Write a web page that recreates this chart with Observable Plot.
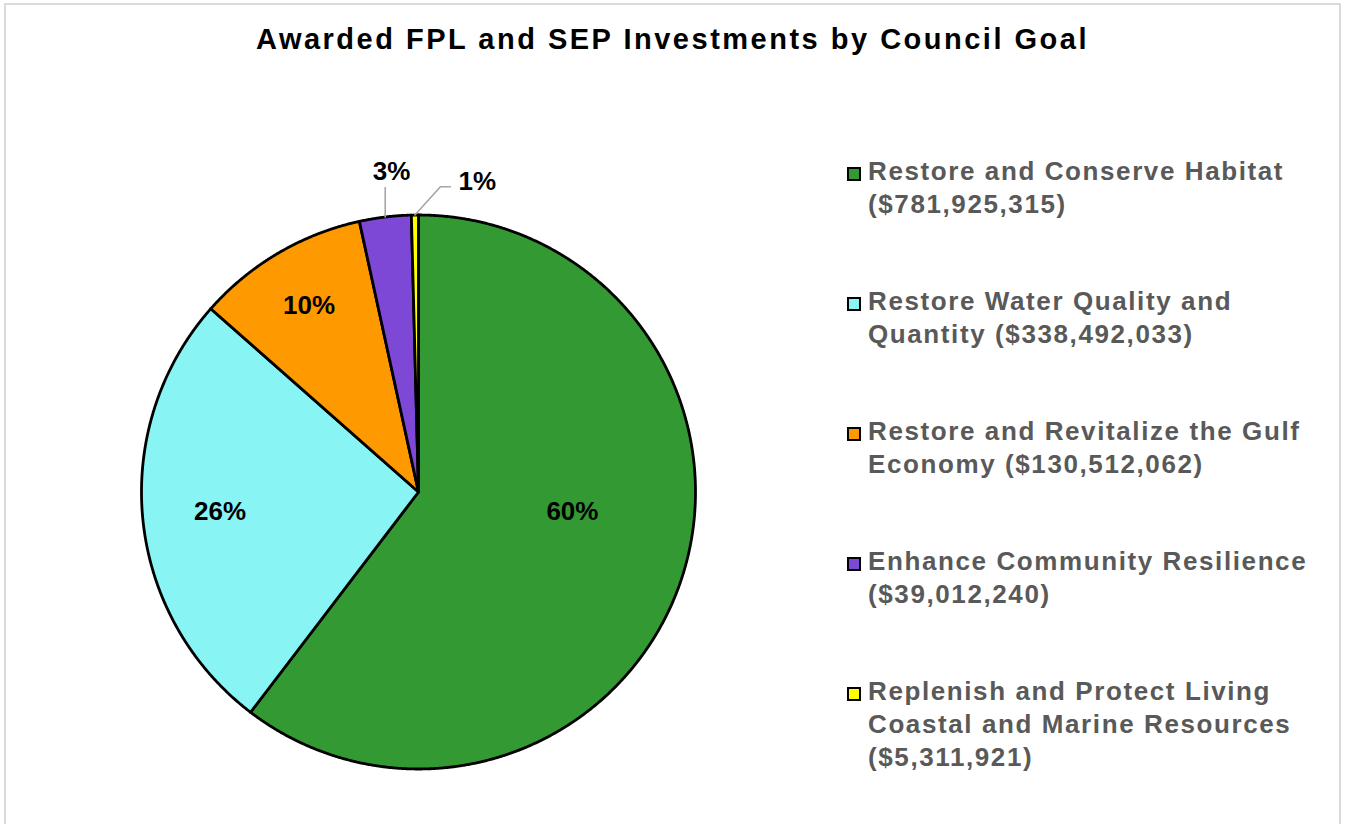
<!DOCTYPE html>
<html>
<head>
<meta charset="utf-8">
<script src="https://cdn.jsdelivr.net/npm/d3@7"></script>
<script src="https://cdn.jsdelivr.net/npm/@observablehq/plot@0.6"></script>
<style>
  html, body { margin: 0; padding: 0; background: #fff; }
  body { width: 1345px; height: 824px; position: relative; overflow: hidden; font-family: "Liberation Sans", Arial, sans-serif; }
  #frame { position: absolute; left: 4px; top: 3px; width: 1337px; height: 840px; border: 2px solid #d9d9d9; box-sizing: border-box; }
  #chart { position: absolute; left: 0; top: 0; }
  #title { position: absolute; left: 0; width: 1345px; top: 23px; text-align: center; font-weight: bold; font-size: 29px; letter-spacing: 2.5px; color: #000; }
  #legend { position: absolute; left: 847px; top: 155px; width: 480px; }
  .item { position: relative; height: 130px; }
  .swatch { position: absolute; left: 0; top: 12px; width: 10px; height: 10px; border: 2px solid #000; }
  .ltext { position: absolute; left: 21px; top: 0; width: 460px; font-weight: bold; font-size: 26px; line-height: 33px; letter-spacing: 1.6px; color: #595959; }
</style>
</head>
<body>
<div id="frame"></div>
<div id="chart"></div>
<div id="title"></div>
<div id="legend"></div>
<script>
// ---- data ----
const title = "Awarded FPL and SEP Investments by Council Goal";
const categories = [
  "Restore and Conserve Habitat",
  "Restore Water Quality and Quantity",
  "Restore and Revitalize the Gulf Economy",
  "Enhance Community Resilience",
  "Replenish and Protect Living Coastal and Marine Resources"
];
const values = [781925315, 338492033, 130512062, 39012240, 5311921];
const percentLabels = ["60%", "26%", "10%", "3%", "1%"];
const colors = ["#339933", "#88F4F4", "#FF9900", "#7E48D6", "#FFFF00"];

// ---- layout (not data) ----
const W = 1345, H = 824;
const cx = 418, cy = 491.5, R = 277;
// inside labels: radius fraction + angle adjust (deg); outside: offsets from arc midpoint (data units)
const labelLayout = [
  {inside: true, r: 0.56, dAngle: -11.5},
  {inside: true, r: 0.72, dAngle: 0},
  {inside: true, r: 0.78, dAngle: 0},
  {inside: false, leader: [[0, 0], [0, 0.106]], label: [0.023, 0.165]},
  {inside: false, leader: [[0, 0], [0.092, 0.102], [0.128, 0.102]], label: [0.225, 0.12]}
];

const rows = categories.map((name, i) => ({name, value: values[i], label: percentLabels[i], color: colors[i]}));
const arcs = d3.pie().sort(null).value(d => d.value)(rows);

// polygon points for each slice (angle 0 = top, clockwise)
function slicePoints(a) {
  const pts = [{x: 0, y: 0}];
  const n = Math.max(2, Math.ceil((a.endAngle - a.startAngle) / 0.004));
  for (let i = 0; i <= n; i++) {
    const t = a.startAngle + (a.endAngle - a.startAngle) * i / n;
    pts.push({x: Math.sin(t), y: Math.cos(t)});
  }
  pts.push({x: 0, y: 0});
  return pts;
}

const labelData = [];
const leaderData = [];
arcs.forEach((a, i) => {
  const L = labelLayout[i];
  const mid = (a.startAngle + a.endAngle) / 2;
  if (L.inside) {
    const t = mid + L.dAngle * Math.PI / 180;
    labelData.push({x: L.r * Math.sin(t), y: L.r * Math.cos(t), text: a.data.label});
  } else {
    const mx = Math.sin(mid), my = Math.cos(mid);
    L.leader.forEach(([dx, dy]) => leaderData.push({x: mx + dx, y: my + dy, k: i}));
    labelData.push({x: mx + L.label[0], y: my + L.label[1], text: a.data.label});
  }
});

const marks = arcs.map(a => Plot.line(slicePoints(a), {
  x: "x", y: "y", fill: a.data.color, stroke: "#000", strokeWidth: 2.8, strokeLinejoin: "round"
}));
marks.push(Plot.line(leaderData, {x: "x", y: "y", z: "k", stroke: "#a6a6a6", strokeWidth: 1.6}));
marks.push(Plot.text(labelData, {
  x: "x", y: "y", text: "text", fill: "#000", fontSize: 26, fontWeight: "bold",
  fontFamily: "Liberation Sans, Arial, sans-serif"
}));

const plot = Plot.plot({
  width: W, height: H,
  margin: 0,
  x: {type: "linear", domain: [-1, 1], range: [cx - R, cx + R], axis: null},
  y: {type: "linear", domain: [-1, 1], range: [cy + R, cy - R], axis: null},
  style: {background: "transparent", overflow: "visible"},
  marks
});
document.getElementById("chart").appendChild(plot);

document.getElementById("title").textContent = title;

const fmt = d3.format("$,");
const legend = document.getElementById("legend");
rows.forEach(r => {
  const item = document.createElement("div");
  item.className = "item";
  const sw = document.createElement("div");
  sw.className = "swatch";
  sw.style.background = r.color;
  const tx = document.createElement("div");
  tx.className = "ltext";
  tx.textContent = `${r.name} (${fmt(r.value)})`;
  item.appendChild(sw);
  item.appendChild(tx);
  legend.appendChild(item);
});
</script>
</body>
</html>
